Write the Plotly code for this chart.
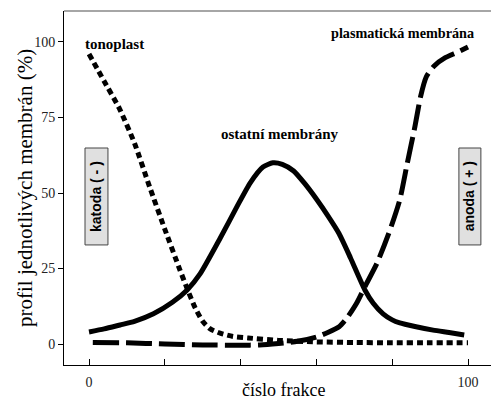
import plotly.graph_objects as go

# ---- data ----
tono_x = [0, 4, 8, 12, 16, 20, 24, 26, 28, 30, 32, 34.6, 38, 42, 50, 60, 70, 80, 90, 100]
tono_y = [96, 87, 78, 66.5, 52, 38, 24.5, 18, 12, 7.5, 5, 3.6, 2.5, 2, 1.2, 0.7, 0.5, 0.4, 0.4, 0.4]

other_x = [0, 4, 8.2, 12, 17, 22, 25.9, 29.3, 34.6, 39, 42.5, 45.9, 48.5, 51, 54, 57, 60, 63, 66, 69,
           72.8, 75, 77.6, 80, 82, 86, 90.8, 95, 99]
other_y = [4, 5, 6.3, 7.5, 10, 13.8, 17.9, 23.2, 35, 45.4, 53.3, 58.6, 60, 59.5, 57.3, 53, 48, 42.5, 36.5,
           28.5, 17.9, 13.5, 10, 8, 7, 5.8, 4.6, 3.8, 3]

plasma_x = [1, 10, 20, 30, 40, 45, 50, 55, 60, 63, 66, 68, 70.6, 72.8, 76, 79.4, 82, 84, 86, 87.5, 89, 91,
            94, 97, 100]
plasma_y = [0.5, 0.4, 0, -0.3, -0.4, -0.3, 0.2, 0.9, 2.3, 3.8, 5.7, 8.5, 13.5, 19, 26.8, 37.7, 47.7, 60, 72,
            82, 88.5, 92, 94.8, 96.5, 98.3]

x_tickvals = [0, 20, 40, 60, 80, 100]
x_ticktext = ["0", "", "", "", "", "100"]
y_tickvals = [0, 25, 50, 75, 100]

fig = go.Figure()
fig.add_trace(go.Scatter(x=tono_x, y=tono_y, mode="lines", name="tonoplast",
                         line=dict(color="black", width=5, dash="6px,4px", shape="spline", smoothing=0.6)))
fig.add_trace(go.Scatter(x=other_x, y=other_y, mode="lines", name="ostatní membrány",
                         line=dict(color="black", width=5, shape="spline", smoothing=0.6)))
fig.add_trace(go.Scatter(x=plasma_x, y=plasma_y, mode="lines", name="plasmatická membrána",
                         line=dict(color="black", width=5, dash="26px,7px", shape="spline", smoothing=0.6)))

serif = "Liberation Serif, Times New Roman, serif"
sans = "Liberation Sans, Arial, sans-serif"

# page body adds an 8px offset, so the figure is 8px smaller than the window
fig.update_layout(
    width=491, height=393,
    margin=dict(l=56, r=0, t=3, b=36),
    plot_bgcolor="white", paper_bgcolor="white",
    showlegend=False,
    xaxis=dict(range=[-6.6, 108.18], tickvals=x_tickvals, ticktext=x_ticktext, automargin=False,
               ticks="inside", ticklen=6, tickcolor="black", showgrid=False, zeroline=False,
               showline=True, linecolor="black", linewidth=1,
               tickfont=dict(family=serif, size=14, color="#222"), ticklabelstandoff=4),
    yaxis=dict(range=[-6.95, 110.26], tickvals=y_tickvals, automargin=False,
               ticks="outside", ticklen=5, tickcolor="black", showgrid=False, zeroline=False,
               showline=True, linecolor="black", linewidth=1,
               tickfont=dict(family=serif, size=14, color="#222")),
)

# axis titles
fig.add_annotation(xref="paper", yref="paper", x=(283 - 64) / 435, y=-(390 - 365) / 354,
                   text="číslo frakce", showarrow=False, yanchor="middle",
                   font=dict(family=serif, size=18, color="black"))
fig.add_annotation(xref="paper", yref="paper", x=-(64 - 25) / 435, y=0.5,
                   text="profil jednotlivých membrán (%)", showarrow=False, textangle=-90,
                   xanchor="center", font=dict(family=serif, size=21, color="black"))

# top frame line (gray)
fig.add_shape(type="line", xref="paper", yref="paper", x0=0, x1=1, y0=1, y1=1,
              line=dict(color="#888", width=1.5))

# curve labels
fig.add_annotation(x=6.6, y=99.3, text="tonoplast", showarrow=False,
                   font=dict(family=serif, size=15, color="black", weight="bold"))
fig.add_annotation(x=50.4, y=69.5, text="ostatní membrány", showarrow=False,
                   font=dict(family=serif, size=15, color="black", weight="bold"))
fig.add_annotation(x=82.7, y=103.0, text="plasmatická membrána", showarrow=False,
                   font=dict(family=serif, size=14.2, color="black", weight="bold"))

# electrode boxes
for x0, x1, txt in [(-1.06, 5.0, "katoda ( - )"), (97.6, 103.4, "anoda ( + )")]:
    fig.add_shape(type="rect", x0=x0, x1=x1, y0=32.8, y1=64.9,
                  fillcolor="#e0e0e0", line=dict(color="#444", width=1))
    fig.add_annotation(x=(x0 + x1) / 2, y=48.85, text=txt, textangle=-90, showarrow=False,
                       font=dict(family=sans, size=14, color="black", weight="bold"))

fig.write_html("out.html")
